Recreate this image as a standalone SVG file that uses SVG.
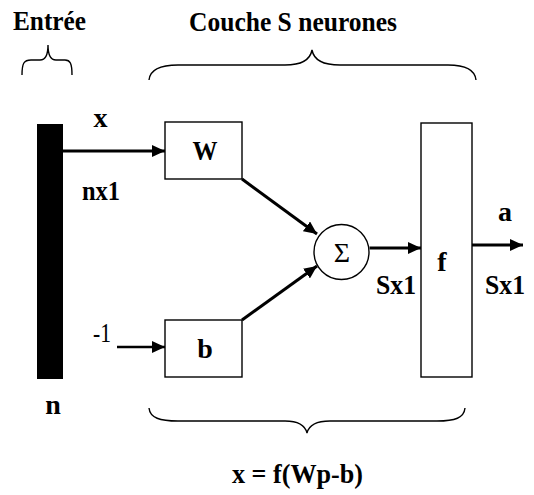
<svg xmlns="http://www.w3.org/2000/svg" width="534" height="495" viewBox="0 0 534 495">
<style>
text{font-family:'Liberation Serif','Times New Roman',serif;font-weight:bold;font-size:28px;fill:#000;text-anchor:middle}
.r{font-weight:normal}
.box{fill:#fff;stroke:#000;stroke-width:1.4}
.brace{fill:none;stroke:#000;stroke-width:1.4}
.arr{fill:none;stroke:#000;stroke-width:3}
</style>
<defs>
<marker id="ah" markerUnits="userSpaceOnUse" markerWidth="14" markerHeight="12" refX="13" refY="6" orient="auto">
<path d="M0,0 L13,6 L0,12 Z" fill="#000"/>
</marker>
</defs>
<rect width="534" height="495" fill="#fff"/>
<g id="labels">
<text x="49.5" y="30" textLength="73" lengthAdjust="spacingAndGlyphs">Entrée</text>
<text x="293" y="31" textLength="208" lengthAdjust="spacingAndGlyphs">Couche S neurones</text>
<text x="297.5" y="483" textLength="131" lengthAdjust="spacingAndGlyphs">x = f(Wp-b)</text>
<path class="brace" d="M22,75 C22,63 24,60 31,60 L40,60 C46,60 48,55 48,45 C48,55 50,60 56,60 L65,60 C70,60 72,63 72,75"/>
<path class="brace" d="M149,80 C150,70 160,65 178,65 L285,65 C300,65 310,61 312,50 C314,61 324,65 340,65 L448,65 C465,65 475,70 476,80"/>
<path class="brace" d="M149,408 C150,418 160,421 178,421 L285,421 C298,421 305,425 307,433 C309,425 316,421 330,421 L437,421 C455,421 464,418 465,408"/>
</g>
<g id="connectors">
<line class="arr" x1="63" y1="151" x2="165" y2="151" marker-end="url(#ah)"/>
<line class="arr" x1="117" y1="347" x2="165" y2="347" marker-end="url(#ah)" style="stroke-width:2.5"/>
<line class="arr" x1="242" y1="179" x2="317" y2="234" marker-end="url(#ah)"/>
<line class="arr" x1="242" y1="320" x2="317" y2="266" marker-end="url(#ah)"/>
<line class="arr" x1="369.5" y1="248" x2="421" y2="248" marker-end="url(#ah)"/>
<line class="arr" x1="472" y1="245" x2="523" y2="245" marker-end="url(#ah)"/>
</g>
<g id="input">
<rect x="37" y="124" width="26" height="255" fill="#000"/>
<text x="100.5" y="127">x</text>
<text x="101" y="200" textLength="38" lengthAdjust="spacingAndGlyphs">nx1</text>
<text x="53" y="414">n</text>
<text class="r" x="102" y="342" textLength="18" lengthAdjust="spacingAndGlyphs">-1</text>
</g>
<g id="W">
<rect class="box" x="165" y="122" width="77" height="57"/>
<text x="205" y="160" textLength="25" lengthAdjust="spacingAndGlyphs">W</text>
</g>
<g id="b">
<rect class="box" x="165" y="320" width="77" height="57"/>
<text x="205" y="358">b</text>
</g>
<g id="sum">
<circle class="box" cx="341.5" cy="252" r="27.5"/>
<text class="r" x="342" y="262">Σ</text>
<text x="396" y="294" textLength="40" lengthAdjust="spacingAndGlyphs">Sx1</text>
</g>
<g id="f">
<rect class="box" x="421" y="123" width="51" height="254"/>
<text x="442" y="271">f</text>
</g>
<g id="output">
<text x="505" y="221">a</text>
<text x="505" y="294" textLength="40" lengthAdjust="spacingAndGlyphs">Sx1</text>
</g>
</svg>
